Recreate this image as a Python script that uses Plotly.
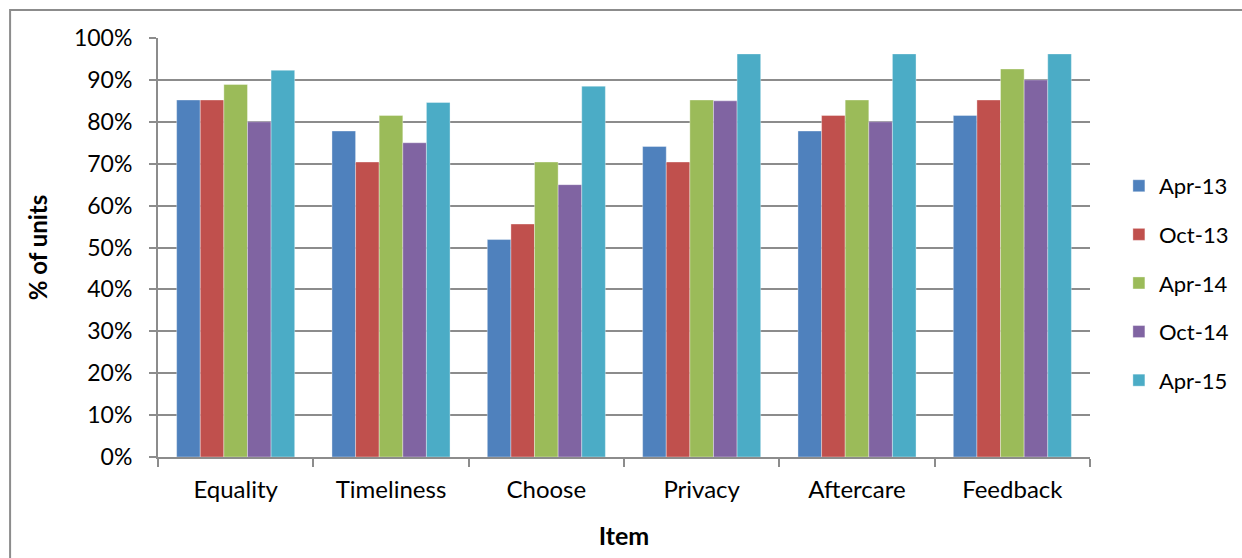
import plotly.graph_objects as go

items = ["Equality", "Timeliness", "Choose", "Privacy", "Aftercare", "Feedback"]
periods = ["Apr-13", "Oct-13", "Apr-14", "Oct-14", "Apr-15"]

apr13 = [0.852, 0.778, 0.519, 0.741, 0.778, 0.815]
oct13 = [0.852, 0.704, 0.556, 0.704, 0.815, 0.852]
apr14 = [0.889, 0.815, 0.704, 0.852, 0.852, 0.926]
oct14 = [0.800, 0.750, 0.650, 0.850, 0.800, 0.900]
apr15 = [0.923, 0.846, 0.885, 0.962, 0.962, 0.962]

series = [apr13, oct13, apr14, oct14, apr15]
colors = ["#4F81BD", "#C0504D", "#9BBB59", "#8064A2", "#4BACC6"]

y_ticks = [i / 10 for i in range(11)]
y_tick_text = [f"{i * 10}%" for i in range(11)]

FONT = "Lato, 'Open Sans', sans-serif"
GRID = "#8C8C8C"

fig = go.Figure()
for name, vals, col in zip(periods, series, colors):
    fig.add_trace(go.Bar(
        x=items, y=vals, name=name, legendgroup=name,
        marker=dict(color=col, line=dict(color="rgba(255,255,255,0.35)", width=1)),
    ))

fig.update_layout(
    width=1242, height=558,
    margin=dict(l=158, r=152, t=38, b=101, autoexpand=False),
    paper_bgcolor="white", plot_bgcolor="white",
    barmode="group", bargap=0.24, bargroupgap=0,
    font=dict(family=FONT, size=23, color="#000000"),
    legend=dict(
        x=1.031, xanchor="left", xref="paper", y=0.697, yanchor="top",
        font=dict(size=22), tracegroupgap=17, itemwidth=30,
        bgcolor="rgba(0,0,0,0)",
    ),
    xaxis=dict(
        showline=True, linecolor=GRID, linewidth=2,
        ticks="outside", ticklen=8, tickcolor=GRID, tickwidth=1.5,
        tickson="boundaries", tickfont=dict(size=24), ticklabelstandoff=10,
        title=dict(text="<b>Item</b>", font=dict(size=25), standoff=26),
    ),
    yaxis=dict(
        range=[0, 1.0], tickvals=y_ticks, ticktext=y_tick_text,
        showgrid=True, gridcolor=GRID, gridwidth=2,
        showline=True, linecolor=GRID, linewidth=2,
        ticks="outside", ticklen=7, tickcolor=GRID, tickwidth=1.5,
        zeroline=False, tickfont=dict(size=23), ticklabelstandoff=12,
        title=dict(text="<b>% of units</b>", font=dict(size=24), standoff=20),
    ),
)

# Chart frame around the whole figure
fig.add_shape(type="rect", xref="paper", yref="paper",
              x0=-0.1587, x1=1.25, y0=-0.35, y1=1.0669,
              line=dict(color="#8C8C8C", width=2), fillcolor="rgba(0,0,0,0)",
              layer="below")

fig.write_html("out.html")
